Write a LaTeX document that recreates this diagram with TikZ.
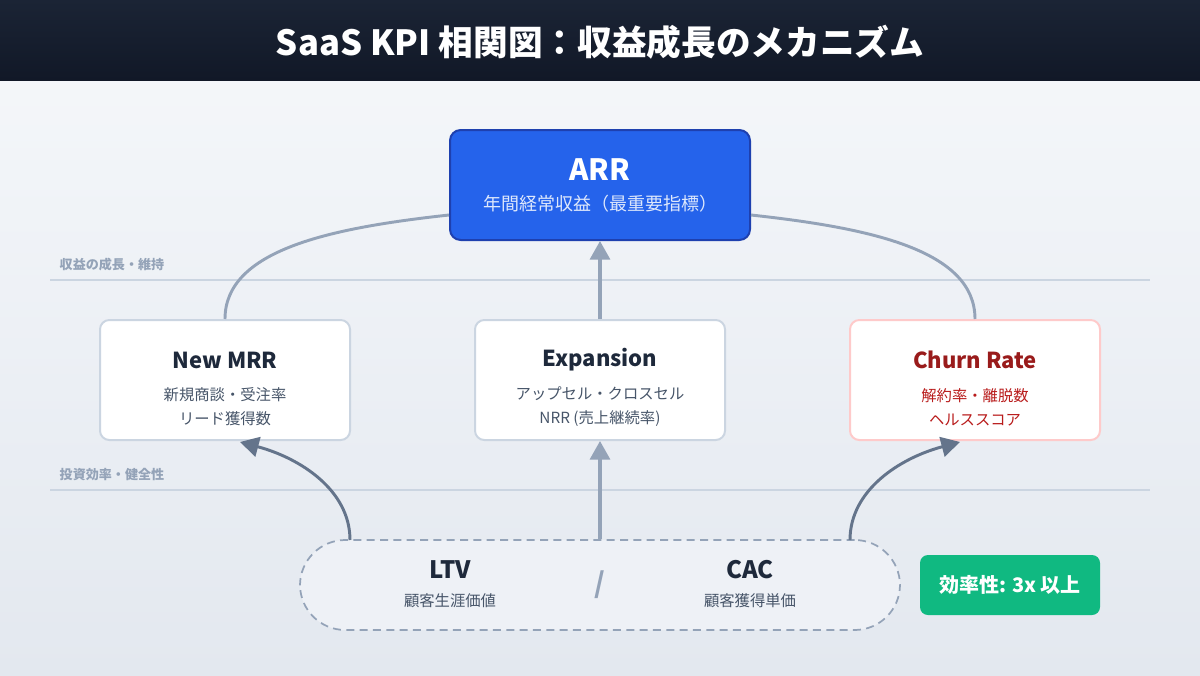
\documentclass[tikz,border=0pt]{standalone}
\usepackage{fontspec}
\setmainfont{Noto Sans CJK JP}
\usetikzlibrary{arrows.meta}
\definecolor{navy}{HTML}{1B2435}
\definecolor{navyB}{HTML}{111827}
\definecolor{bgA}{HTML}{F6F8FB}
\definecolor{bgB}{HTML}{E3E8EF}
\definecolor{arrB}{HTML}{2563EB}
\definecolor{arrD}{HTML}{1E40AF}
\definecolor{line}{HTML}{94A3B8}
\definecolor{lineD}{HTML}{64748B}
\definecolor{txt}{HTML}{1E293B}
\definecolor{sub}{HTML}{475569}
\definecolor{red}{HTML}{991B1B}
\definecolor{redl}{HTML}{B91C1C}
\definecolor{pinkb}{HTML}{FECACA}
\definecolor{grayb}{HTML}{CBD5E1}
\definecolor{green}{HTML}{10B981}
\definecolor{pillf}{HTML}{EEF1F6}
\begin{document}
\begin{tikzpicture}[x=0.75pt,y=-0.75pt,
 box/.style={draw=grayb,line width=1.5pt,fill=white,rounded corners=7pt,minimum width=187.5pt,minimum height=90pt},
 ttl/.style={font=\bfseries\fontsize{16.5}{18}\selectfont,text=txt},
 st/.style={font=\fontsize{11.5}{18}\selectfont,text=sub,align=center},
 conn/.style={draw=line,line width=2.2pt},
 up/.style={draw=lineD,line width=2.2pt,-{Triangle[length=14pt,width=15pt]}},
 lab/.style={font=\bfseries\fontsize{9.8}{10}\selectfont,text=line,anchor=west}]
\shade[top color=bgA,bottom color=bgB] (0,0) rectangle (1200,675);
\useasboundingbox (0,0) rectangle (1200,675);
\shade[top color=navy,bottom color=navyB] (0,0) rectangle (1200,80);
\node[text=white,font=\bfseries\fontsize{26}{28}\selectfont] (title) at (600,42) {SaaS KPI 相関図：収益成長のメカニズム};
\draw[grayb,line width=1pt] (50,280) -- (1150,280);
\draw[grayb,line width=1pt] (50,490) -- (1150,490);
\node[lab] (l1) at (55,265) {収益の成長・維持};
\node[lab] (l2) at (55,475) {投資効率・健全性};
% ARR
\node[draw=arrD,line width=1.5pt,fill=arrB,rounded corners=8pt,minimum width=225pt,minimum height=82.5pt] (arr) at (600,185) {};
\node[text=white,font=\bfseries\fontsize{22}{22}\selectfont] (arrt) at (600,170) {ARR};
\node[text=white!85!arrB,font=\fontsize{13.5}{14}\selectfont] (arrs) at (600,204) {年間経常収益（最重要指標）};
% boxes
\node[box] (nm) at (225,380) {};
\node[ttl] at (225,360) {New MRR};
\node[st] at (225,407) {新規商談・受注率\\リード獲得数};
\node[box] (ex) at (600,380) {};
\node[ttl] at (600,360) {Expansion};
\node[st] at (600,407) {アップセル・クロスセル\\NRR (売上継続率)};
\node[box,draw=pinkb] (ch) at (975,380) {};
\node[ttl,text=red] at (975,360) {Churn Rate};
\node[st,text=redl] at (975,407) {解約率・離脱数\\ヘルススコア};
% connectors top
\draw[conn] (nm.north) .. controls (225,250) and (330,228) .. (arr.west|-0,215);
\draw[conn] (ch.north) .. controls (975,250) and (870,228) .. (arr.east|-0,215);
\draw[draw=line,line width=2.5pt,-{Triangle[length=14pt,width=15pt]}] (ex.north) -- (arr.south);
% bottom pill
\node[draw=line,dashed,dash pattern=on 6pt off 4pt,line width=1.3pt,fill=pillf,rounded corners=34pt,minimum width=450pt,minimum height=67.5pt] (pill) at (600,585) {};
\node[ttl,font=\bfseries\fontsize{18}{20}\selectfont] (ltv) at (450,570) {LTV};
\node[st] at (450,601) {顧客生涯価値};
\node[ttl,font=\bfseries\fontsize{18}{20}\selectfont] (cac) at (750,570) {CAC};
\node[st] at (750,601) {顧客獲得単価};
\node[text=line,font=\bfseries\fontsize{21}{22}\selectfont] (sl) at (600,585) {/};
\coordinate (p1) at (350,540);
\coordinate (p3) at (850,540);
\draw[up] (p1) .. controls (350,490) and (300,458) .. (240,442);
\draw[draw=line,line width=2.5pt,-{Triangle[length=14pt,width=15pt]}] (pill.north) -- (ex.south);
\draw[up] (p3) .. controls (850,490) and (900,458) .. (960,442);
% badge
\node[fill=green,rounded corners=6pt,minimum width=135pt,minimum height=45pt,text=white,font=\bfseries\fontsize{15}{15}\selectfont] (bd) at (1010,585) {効率性: 3x 以上};
\end{tikzpicture}
\end{document}
